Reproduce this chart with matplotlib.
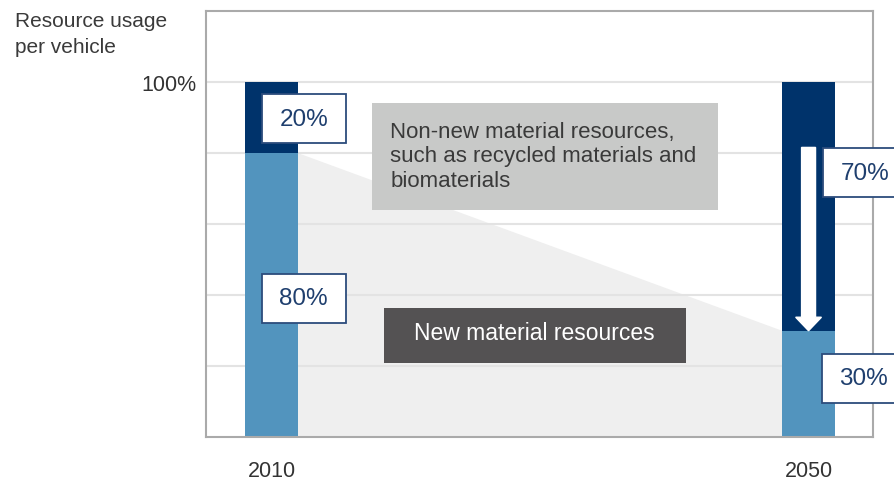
import matplotlib.pyplot as plt
from matplotlib.patches import Rectangle, Polygon, FancyArrow

plt.rcParams['font.family'] = ['Liberation Sans', 'DejaVu Sans']

years = ['2010', '2050']
new_share = [80, 30]
non_new_share = [20, 70]
share_labels_new = ['80%', '30%']
share_labels_non_new = ['20%', '70%']
y_label = 'Resource usage\nper vehicle'
non_new_text = 'Non-new material resources,\nsuch as recycled materials and\nbiomaterials'
new_text = 'New material resources'

dark_blue = '#00336b'
light_blue = '#5294be'
label_edge = '#2c4c7c'
label_text = '#1f3f6e'
text_grey = '#3a3a3a'

fig = plt.figure(figsize=(8.94, 4.81), dpi=100)
ax = fig.add_axes([206 / 894, 1 - 438.3 / 481, 667 / 894, 426.3 / 481])

x = [0, 1]
w = 0.0987

# shaded wedge between the new-material parts of the two bars
wedge = Polygon([(x[0] + w / 2, 0), (x[0] + w / 2, new_share[0]),
                 (x[1] - w / 2, new_share[1]), (x[1] - w / 2, 0)],
                closed=True, facecolor='#efefef', edgecolor='none', zorder=1)
ax.add_patch(wedge)

ax.bar(x, new_share, width=w, color=light_blue, zorder=3)
ax.bar(x, non_new_share, width=w, bottom=new_share, color=dark_blue, zorder=3)

ax.set_xlim(-0.122, 1.120)
ax.set_ylim(0, 120)
ax.set_yticks([20, 40, 60, 80, 100])
ax.set_yticklabels(['', '', '', '', '100%'])
ax.set_xticks(x)
ax.set_xticklabels(years)
ax.tick_params(axis='both', length=0, labelsize=15.5, colors='#333333')
ax.tick_params(axis='x', pad=16.5)
ax.tick_params(axis='y', pad=7)
ax.grid(axis='y', color='#e3e3e3', linewidth=1.5, zorder=2)
ax.set_axisbelow(False)
for s in ax.spines.values():
    s.set_color('#aaaaaa')
    s.set_linewidth(1.5)
    s.set_zorder(4)

fig.text(15 / 894, 1 - 12 / 481, y_label, ha='left', va='top',
         fontsize=15, color=text_grey, linespacing=1.45)

# arrow in the 2050 bar
top = new_share[0] + 1.6
ax.add_patch(FancyArrow(x[1], top, 0, new_share[1] - top, width=0.026,
                        head_width=0.048, head_length=3.8,
                        length_includes_head=True, color='white',
                        zorder=5))

# grey annotation boxes
ax.add_patch(Rectangle((0.187, 64.0), 0.644, 30.2, facecolor='#c8c9c8',
                       edgecolor='none', zorder=6))
ax.text(0.221, 79.2, non_new_text, ha='left', va='center', fontsize=16,
        color=text_grey, linespacing=1.2, zorder=7)
ax.add_patch(Rectangle((0.209, 20.9), 0.563, 15.6, facecolor='#545253',
                       edgecolor='none', zorder=6))
ax.text(0.49, 29.6, new_text, ha='center', va='center', fontsize=16.5,
        color='white', zorder=7)

# percentage label boxes
boxes = [
    (-0.0177, 82.8, 0.1557, 13.8, 0.06, share_labels_non_new[0]),
    (-0.0177, 32.3, 0.1557, 13.8, 0.06, share_labels_new[0]),
    (1.0275, 67.6, 0.2, 13.8, 1.105, share_labels_non_new[1]),
    (1.0255, 9.7, 0.2, 13.8, 1.103, share_labels_new[1]),
]
for bx, by, bw, bh, tx, lab in boxes:
    ax.add_patch(Rectangle((bx, by), bw, bh, facecolor='white',
                           edgecolor=label_edge, linewidth=1.3, zorder=8,
                           clip_on=False))
    ax.text(tx, by + bh / 2, lab, ha='center', va='center', fontsize=17.5,
            color=label_text, zorder=9, clip_on=False)

fig.savefig('out.png', dpi=100)
